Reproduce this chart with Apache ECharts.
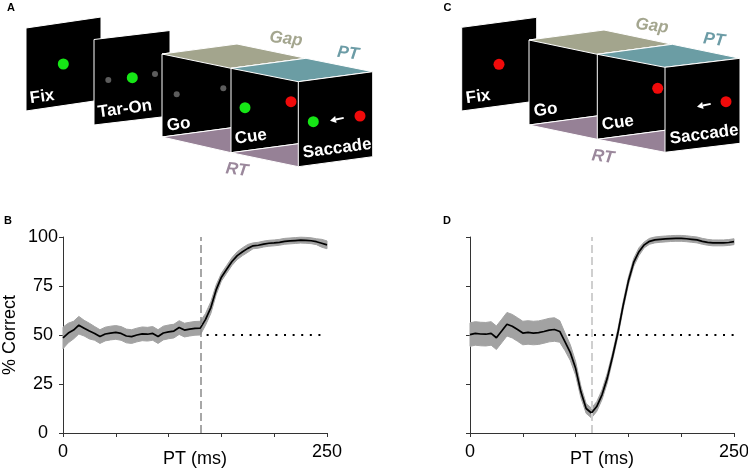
<!DOCTYPE html>
<html><head><meta charset="utf-8">
<script src="https://cdn.jsdelivr.net/npm/echarts@6/dist/echarts.min.js"></script>
<style>html,body{margin:0;padding:0;background:#fff}#c{width:748px;height:470px}</style>
</head><body><div id="c"></div>
<script>
// ---------------- data ----------------
const pt = [0,5,10,15,20,25,30,35,40,45,50,55,60,65,70,75,80,85,90,95,100,105,110,115,120,125,130,135,140,145,150,155,160,165,170,175,180,185,190,195,200,205,210,215,220,225,230,235,240,245,250];
const pctB = [48.5,51,52.5,55,53.5,52,50.8,49.2,50.5,51,51.3,50.8,49.5,49.2,50,50.6,50.4,50.8,49.2,51,51.6,52,53.8,52.5,53,53.4,53.5,58,64,73,79.5,83.5,87.5,90.5,92.5,94.2,95.5,95.8,96.4,96.8,97,97.3,97.8,98,98.2,98.4,98.3,98.1,97.6,96.8,96];
const semB = [5.5,5,4.5,4.5,4,4,3.5,3.5,3.5,3.5,3.5,3.5,3.5,3.5,3.5,3.5,3.5,3.5,3.5,3.5,3.5,3.5,3.5,3.5,3.5,3.5,3.5,3,3,2.5,2,2,2,2,2,2,1.5,1.5,1.5,1.5,1.5,1.5,1.5,1.5,1.5,1.5,1.5,1.5,1.5,2,2];
const pctD = [50.2,50.8,50.5,50.4,50.8,48.6,52,55.5,54.5,52.8,51,51.3,51,51.2,51.8,52.5,52.8,51.8,46.5,41,33,21,12.5,10.2,13.5,19.5,28,39,51,65,77.5,87,92.5,96,97.8,98.5,98.8,99,99.2,99.3,99.3,99.1,98.8,98.5,97.8,97.3,97,97,97,97.2,97.6];
const semD = [6,6,6,6,6,6,6,6,6,6,6,6,6,6,6,6,6,5.5,4.5,4,3.5,3,2.5,2.5,2.5,2.5,2.5,2,2,2,2,2,2,1.5,1.5,1.5,1.5,1.5,1.5,1.5,1.5,1.5,1.5,1.5,1.5,1.5,1.5,1.5,1.5,1.5,1.5];
const xTickLabels = ['0','','','','','250'];
const yTickLabels = ['0','25','50','75','100'];
const gapLineB = 130, gapLineD = 115;       // vertical dashed markers (PT, ms)
const chanceLevel = 50;
const chanceSpanB = [136, 250], chanceSpanD = [93, 250];

// ---------------- schematic (panels A, C) ----------------
const FONT = '"Liberation Sans", Arial, sans-serif';
const G = [];
let zc = 10;
function frame(L,T,W,H,S){ return [[L,T],[L+W,T-S],[L+W,T-S+H],[L,T+H]]; }
function poly(points, fill){ G.push({type:'polygon', z:zc++, silent:true, shape:{points}, style:{fill, stroke:'#fff', lineWidth:1}}); }
function dot(x,y,r,fill){ G.push({type:'circle', z:zc++, silent:true, shape:{cx:x,cy:y,r}, style:{fill}}); }
function txt(x,y,text,font,fill,rot,align){
  G.push({type:'text', z:zc++, silent:true, x, y, rotation:rot||0,
    style:{text, font, fill, textAlign:align||'left', align:align||'left', textVerticalAlign:'middle', verticalAlign:'middle'}});
}
function arrow(tx,ty){
  const ux=-0.978, uy=0.203, px=0.203, py=0.978;
  const bx=tx-6*ux, by=ty-6*uy;
  G.push({type:'line', z:zc++, silent:true, shape:{x1:bx-8*ux, y1:by-8*uy, x2:bx, y2:by}, style:{stroke:'#fff', lineWidth:2}});
  G.push({type:'polygon', z:zc++, silent:true, shape:{points:[[tx,ty],[bx+3.5*px,by+3.5*py],[bx-3.5*px,by-3.5*py]]}, style:{fill:'#fff'}});
}
const LBL = 'bold 17px ' + FONT;
const TOPLBL = 'italic bold 17px ' + FONT;
const PAN = 'bold 11px ' + FONT;
const GREEN = '#16e616', RED = '#f00a0a', GREY = '#5c5c5c';
const C_GAP = '#a3a58d', C_PT = '#6b9da4', C_RT = '#968196';
const TGAP = '#a4a68f', TPT = '#6c9ca6', TRT = '#9b889c';
const ROT = 0.13;

function box(go, cue, sac){
  poly(go, '#000');
  poly([go[0], go[1], cue[1], cue[0]], C_GAP);
  poly([go[3], go[2], cue[2], cue[3]], C_RT);
  poly(cue, '#000');
  poly([cue[0], cue[1], sac[1], sac[0]], C_PT);
  poly([cue[3], cue[2], sac[2], sac[3]], C_RT);
  poly(sac, '#000');
}

// Panel A
txt(11, 8, 'A', PAN, '#000', 0, 'center');
poly(frame(26,28,75,83,11), '#000');
dot(63.3,64,5.5,GREEN);
txt(30,98.5,'Fix',LBL,'#fff',ROT);
poly(frame(94,39.5,76,85.5,9), '#000');
dot(132.3,77.7,5.5,GREEN); dot(108.3,80,3,GREY); dot(155,74,3,GREY);
txt(98,112.5,'Tar-On',LBL,'#fff',ROT);
box(frame(162,54,75,83,10), frame(231,68.3,75,84.4,10), frame(298.3,81.7,74.4,85,10));
dot(176.7,94.3,3,GREY); dot(223.3,88.3,3,GREY);
txt(167,126,'Go',LBL,'#fff',ROT);
dot(245,107.7,5.5,GREEN); dot(291,101.7,5.5,RED);
txt(235,139,'Cue',LBL,'#fff',ROT);
dot(313.3,121.7,5.5,GREEN); dot(360,116,5.5,RED); arrow(330,120.7);
txt(303,153,'Saccade',LBL,'#fff',ROT);
txt(286,39,'Gap',TOPLBL,TGAP,-0.12,'center');
txt(348,53.5,'PT',TOPLBL,TPT,-0.12,'center');
txt(237,170,'RT',TOPLBL,TRT,-0.12,'center');

// Panel C
txt(447.5, 7.5, 'C', PAN, '#000', 0, 'center');
poly(frame(461.7,27.3,75,83.7,10), '#000');
dot(499,64.3,5.5,RED);
txt(466,98.5,'Fix',LBL,'#fff',ROT);
box(frame(529,40,75,85,10), frame(597.3,54.3,75,85,10), frame(665,67.3,75,85,9));
txt(534,111.5,'Go',LBL,'#fff',ROT);
dot(657.7,88.3,5.5,RED);
txt(602,125,'Cue',LBL,'#fff',ROT);
dot(726,101.7,5.5,RED); arrow(697,106.7);
txt(670,139,'Saccade',LBL,'#fff',ROT);
txt(652,26,'Gap',TOPLBL,TGAP,-0.12,'center');
txt(714,40,'PT',TOPLBL,TPT,-0.12,'center');
txt(603,157,'RT',TOPLBL,TRT,-0.12,'center');

// panel letters B, D
txt(8, 221, 'B', PAN, '#000', 0, 'center');
txt(447, 221, 'D', PAN, '#000', 0, 'center');

// ---------------- charts (panels B, D) ----------------
const AX = '#333';
function xAx(i){
  return {type:'value', gridIndex:i, min:0, max:250, interval:50,
    name:'PT (ms)', nameLocation:'middle', nameGap:17, nameMoveOverlap:false,
    nameTextStyle:{fontSize:18, color:'#000', fontFamily:FONT},
    axisLine:{show:true, onZero:false, lineStyle:{color:AX, width:1}},
    axisTick:{show:true, length:4, lineStyle:{color:AX}},
    splitLine:{show:false},
    axisLabel:{show:true, fontSize:18, color:'#000', margin:10, fontFamily:FONT, showMinLabel:true, showMaxLabel:true,
      formatter:(v)=> xTickLabels[Math.round(v/50)] || ''}};
}
function yAx(i, labels){
  return {type:'value', gridIndex:i, min:0, max:100, interval:25,
    name: labels ? '% Correct' : '', nameLocation:'middle', nameGap:44, nameMoveOverlap:false,
    nameTextStyle:{fontSize:18, color:'#000', fontFamily:FONT},
    axisLine:{show:true, lineStyle:{color:AX, width:1}},
    axisTick:{show:true, length:4, lineStyle:{color:AX}},
    splitLine:{show:false},
    axisLabel:{show:labels, fontSize:18, color:'#000', margin:20, align:'center', fontFamily:FONT,
      formatter:(v)=> yTickLabels[Math.round(v/25)]}};
}
function bandSeries(i, pct, sem, gapX, gapColor, gapWidth, chanceSpan){
  const bandData = pt.map((x,k)=>[x, pct[k]-sem[k], pct[k]+sem[k]]);
  const mean = pt.map((x,k)=>[x, pct[k]]);
  return [
    {type:'line', xAxisIndex:i, yAxisIndex:i, data:mean, symbol:'none', silent:true,
      lineStyle:{opacity:0}, z:1,
      markLine:{silent:true, symbol:'none', label:{show:false}, animation:false,
        data:[{xAxis:gapX, lineStyle:{color:gapColor, type:[8,4], width:gapWidth}}]}},
    {type:'custom', xAxisIndex:i, yAxisIndex:i, data:bandData, silent:true, z:2,
      encode:{x:0, y:[1,2]},
      renderItem:(params, api)=>{
        if (params.dataIndex !== 0) return null;
        const up = bandData.map(d=>api.coord([d[0], d[2]]));
        const lo = bandData.map(d=>api.coord([d[0], d[1]])).reverse();
        return {type:'polygon', shape:{points:up.concat(lo)}, style:{fill:'#a2a2a2', stroke:'#a2a2a2', lineWidth:1}};
      }},
    {type:'line', xAxisIndex:i, yAxisIndex:i, data:mean, symbol:'none', silent:true,
      lineStyle:{color:'#000', width:1.7}, z:4,
      markLine:{silent:true, symbol:'none', label:{show:false}, animation:false,
        data:[[{coord:[chanceSpan[0], chanceLevel]},{coord:[chanceSpan[1], chanceLevel]}]],
        lineStyle:{color:'#000', type:[2,6.6], width:2}}}
  ];
}

const option = {
  animation:false,
  textStyle:{fontFamily:FONT},
  grid:[{left:63, top:237, width:264, height:196, outerBoundsMode:'none', containLabel:false},
        {left:470, top:237, width:264, height:196, outerBoundsMode:'none', containLabel:false}],
  xAxis:[xAx(0), xAx(1)],
  yAxis:[yAx(0,true), yAx(1,false)],
  series:[].concat(
    bandSeries(0, pctB, semB, gapLineB, '#8a8a8a', 1.5, chanceSpanB),
    bandSeries(1, pctD, semD, gapLineD, '#cfcfcf', 2, chanceSpanD)),
  graphic:{elements:G}
};
const chart = echarts.init(document.getElementById('c'), null, {renderer:'canvas'});
chart.setOption(option);
</script></body></html>
